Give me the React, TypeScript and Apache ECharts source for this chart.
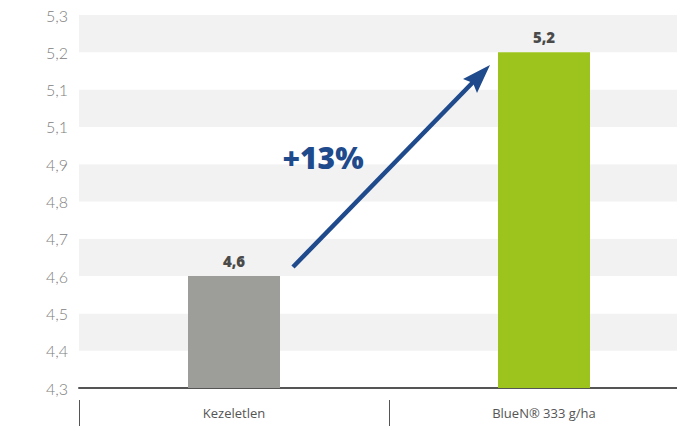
import React, { useEffect, useRef } from "react";
import * as echarts from "echarts";

const categories = ["Kezeletlen", "BlueN® 333 g/ha"];
const values = [4.6, 5.2];
const valueLabels = ["4,6", "5,2"];
const barColors = ["#9d9d9a", "#9dc41d"];
const yTickLabels = ["4,3", "4,4", "4,5", "4,6", "4,7", "4,8", "4,9", "5,1", "5,1", "5,2", "5,3"];
const increaseLabel = "+13%";

export default function App() {
  const ref = useRef<HTMLDivElement>(null);
  useEffect(() => {
    if (!ref.current) return;
    const chart = echarts.init(ref.current, null, { renderer: "svg" });
    const blue = "#1f4a8c";
    chart.setOption({
      animation: false,
      grid: { left: 79, top: 15, bottom: 38, right: 21 },
      xAxis: [
        {
          type: "category",
          data: categories,
          position: "bottom",
          axisLine: { show: true, lineStyle: { color: "#555555", width: 2 } },
          axisTick: { show: false },
          axisLabel: {
            margin: 18,
            fontSize: 13,
            color: "#555555",
            fontFamily: "Open Sans",
          },
        },
        {
          type: "category",
          data: categories,
          position: "bottom",
          offset: 12,
          axisLine: { show: false },
          axisTick: { show: true, length: 26, lineStyle: { color: "#555555", width: 1 } },
          axisLabel: { show: false },
        },
      ],
      yAxis: {
        type: "value",
        min: 4.3,
        max: 5.3,
        interval: 0.1,
        axisLine: { show: false },
        axisTick: { show: false },
        splitLine: { show: false },
        splitArea: { show: true, areaStyle: { color: ["#ffffff", "#f2f2f2"] } },
        axisLabel: {
          margin: 11,
          fontSize: 16,
          color: "#808080",
          fontFamily: "Lato",
          fontWeight: 300,
          formatter: (v: number) => yTickLabels[Math.round((v - 4.3) * 10)] ?? "",
        },
      },
      series: [
        {
          type: "bar",
          xAxisIndex: 0,
          barWidth: 92,
          data: values.map((v, i) => ({ value: v, itemStyle: { color: barColors[i] } })),
          label: {
            show: true,
            position: "top",
            distance: 8,
            fontSize: 15,
            fontWeight: 800,
            color: "#4a4a4a",
            fontFamily: "Open Sans",
            formatter: (p: any) => valueLabels[p.dataIndex],
          },
        },
      ],
      graphic: [
        {
          type: "line",
          z: 100,
          shape: { x1: 293, y1: 267, x2: 480, y2: 75 },
          style: { stroke: blue, lineWidth: 4.5 },
        },
        {
          type: "polygon",
          z: 100,
          shape: { points: [[490, 65], [463, 79], [473, 83], [477, 93]] },
          style: { fill: blue },
        },
        {
          type: "text",
          z: 100,
          x: 323,
          y: 157,
          style: {
            text: increaseLabel,
            fill: blue,
            font: "800 30px 'Open Sans'",
            align: "center",
            verticalAlign: "middle",
          },
        },
      ],
    });
    return () => chart.dispose();
  }, []);
  return (
    <div
      style={{ position: "fixed", left: 0, top: 0, width: 677, height: 426, overflow: "hidden", background: "#fff" }}
    >
      <div ref={ref} style={{ width: 720, height: 426 }} />
    </div>
  );
}
